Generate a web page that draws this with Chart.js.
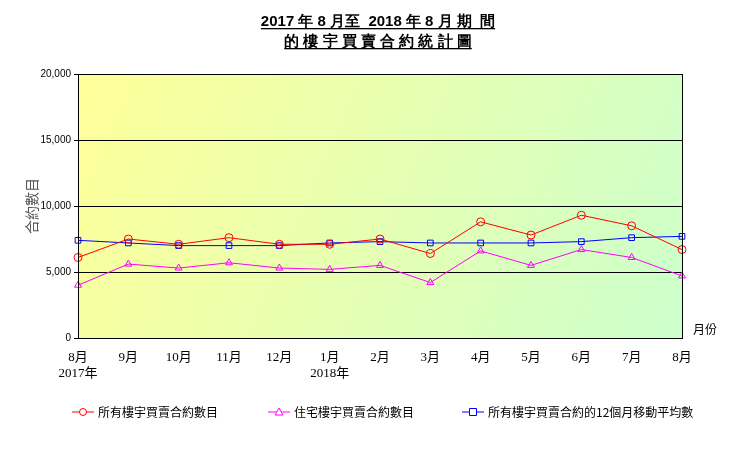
<!DOCTYPE html>
<html>
<head>
<meta charset="utf-8">
<script src="https://cdn.jsdelivr.net/npm/chart.js@4/dist/chart.umd.min.js"></script>
<style>
  body { margin: 0; background: #fff; }
  #wrap { width: 756px; height: 454px; }
</style>
</head>
<body>
<div id="wrap"><canvas id="c" width="756" height="454"></canvas></div>
<script>
// ====== Data ======
const months = [["8月", "2017年"], "9月", "10月", "11月", "12月", ["1月", "2018年"], "2月", "3月", "4月", "5月", "6月", "7月", "8月"];
const allProps = [6100, 7500, 7100, 7600, 7100, 7100, 7500, 6400, 8800, 7800, 9300, 8500, 6700];
const residential = [4000, 5600, 5300, 5700, 5300, 5200, 5500, 4200, 6600, 5500, 6700, 6100, 4700];
const movingAvg = [7400, 7200, 7000, 7000, 7000, 7200, 7300, 7200, 7200, 7200, 7300, 7600, 7700];
const seriesNames = ["所有樓宇買賣合約數目", "住宅樓宇買賣合約數目", "所有樓宇買賣合約的12個月移動平均數"];
const seriesColors = ["#ff0000", "#ff00ff", "#0000ff"];
const seriesPoints = ["circle", "triangle", "rect"];
const titleLines = ["2017 年 8 月至  2018 年 8 月 期  間", "的 樓 宇 買 賣 合 約 統 計 圖"];

// ====== Plugins ======
const decor = {
    id: "decor",
    beforeDraw(chart) {
        const { ctx, chartArea: a } = chart;
        const g = ctx.createLinearGradient(a.left, a.top, a.right, a.bottom);
        g.addColorStop(0, "#ffff99");
        g.addColorStop(1, "#ccffcc");
        ctx.save();
        ctx.fillStyle = g;
        ctx.fillRect(a.left, a.top, a.right - a.left, a.bottom - a.top);
        ctx.restore();
    },
    afterDraw(chart) {
        const { ctx, chartArea: a } = chart;
        ctx.save();
        ctx.strokeStyle = "#000";
        ctx.lineWidth = 1;
        ctx.strokeRect(a.left + 0.5, a.top + 0.5, a.right - a.left, a.bottom - a.top);

        // title with underline
        ctx.fillStyle = "#000";
        ctx.font = "bold 15px 'Liberation Sans', Arial, sans-serif";
        ctx.textAlign = "center";
        ctx.textBaseline = "alphabetic";
        titleLines.forEach((t, i) => {
            const y = 26 + i * 20;
            ctx.fillText(t, 378, y);
            const w = ctx.measureText(t).width;
            ctx.fillRect(378 - w / 2, y + 2, w, 1.3);
        });

        // axis titles
        ctx.font = "14px 'Noto Sans CJK TC', sans-serif";
        ctx.fillStyle = "#555";
        ctx.save();
        ctx.translate(32, 206);
        ctx.rotate(-Math.PI / 2);
        ctx.fillText("合約數目", 0, 5);
        ctx.restore();
        ctx.fillStyle = "#000";
        ctx.font = "12px 'Noto Sans CJK TC', sans-serif";
        ctx.textAlign = "left";
        ctx.fillText("月份", 693, 334);

        // legend
        const lx = [72, 268, 462];
        ctx.font = "12px 'Noto Sans CJK TC', sans-serif";
        ctx.textBaseline = "middle";
        seriesNames.forEach((n, i) => {
            const y = 412, x = lx[i];
            ctx.strokeStyle = seriesColors[i];
            ctx.beginPath();
            ctx.moveTo(x, y);
            ctx.lineTo(x + 22, y);
            ctx.stroke();
            const cx = x + 11;
            ctx.beginPath();
            if (i === 0) ctx.arc(cx, y, 3.5, 0, Math.PI * 2);
            else if (i === 1) { ctx.moveTo(cx, y - 4); ctx.lineTo(cx + 4, y + 3); ctx.lineTo(cx - 4, y + 3); ctx.closePath(); }
            else ctx.rect(cx - 3.5, y - 3.5, 7, 7);
            ctx.fillStyle = "#fff";
            ctx.fill();
            ctx.stroke();
            ctx.fillStyle = "#000";
            ctx.fillText(n, x + 26, y);
        });
        ctx.restore();
    }
};

// ====== Chart ======
const mkSet = (data, i) => ({
    label: seriesNames[i],
    data,
    borderColor: seriesColors[i],
    borderWidth: 1,
    pointStyle: seriesPoints[i],
    pointRadius: 4,
    pointBackgroundColor: "rgba(255,255,255,0)",
    pointBorderColor: seriesColors[i],
    tension: 0
});

new Chart(document.getElementById("c").getContext("2d"), {
    type: "line",
    data: {
        labels: months,
        datasets: [mkSet(allProps, 0), mkSet(residential, 1), mkSet(movingAvg, 2)]
    },
    options: {
        responsive: false,
        animation: false,
        layout: { padding: { left: 0, right: 74, top: 74, bottom: 0 } },
        plugins: { legend: { display: false }, tooltip: { enabled: false } },
        scales: {
            x: {
                offset: false,
                grid: { display: false },
                border: { display: false },
                afterFit(s) { s.height = 116; },
                ticks: {
                    color: "#000",
                    maxRotation: 0,
                    autoSkip: false,
                    padding: 4,
                    font: { family: "'Liberation Serif', 'Noto Sans CJK TC', serif", size: 13 }
                }
            },
            y: {
                min: 0,
                max: 20000,
                afterFit(s) { s.width = 78; },
                grid: { color: "#000", drawTicks: true, tickLength: 4 },
                border: { display: false },
                ticks: {
                    stepSize: 5000,
                    color: "#000",
                    font: { family: "'Liberation Sans', Arial, sans-serif", size: 10 },
                    callback: v => v.toLocaleString("en-US")
                }
            }
        }
    },
    plugins: [decor]
});
</script>
</body>
</html>
